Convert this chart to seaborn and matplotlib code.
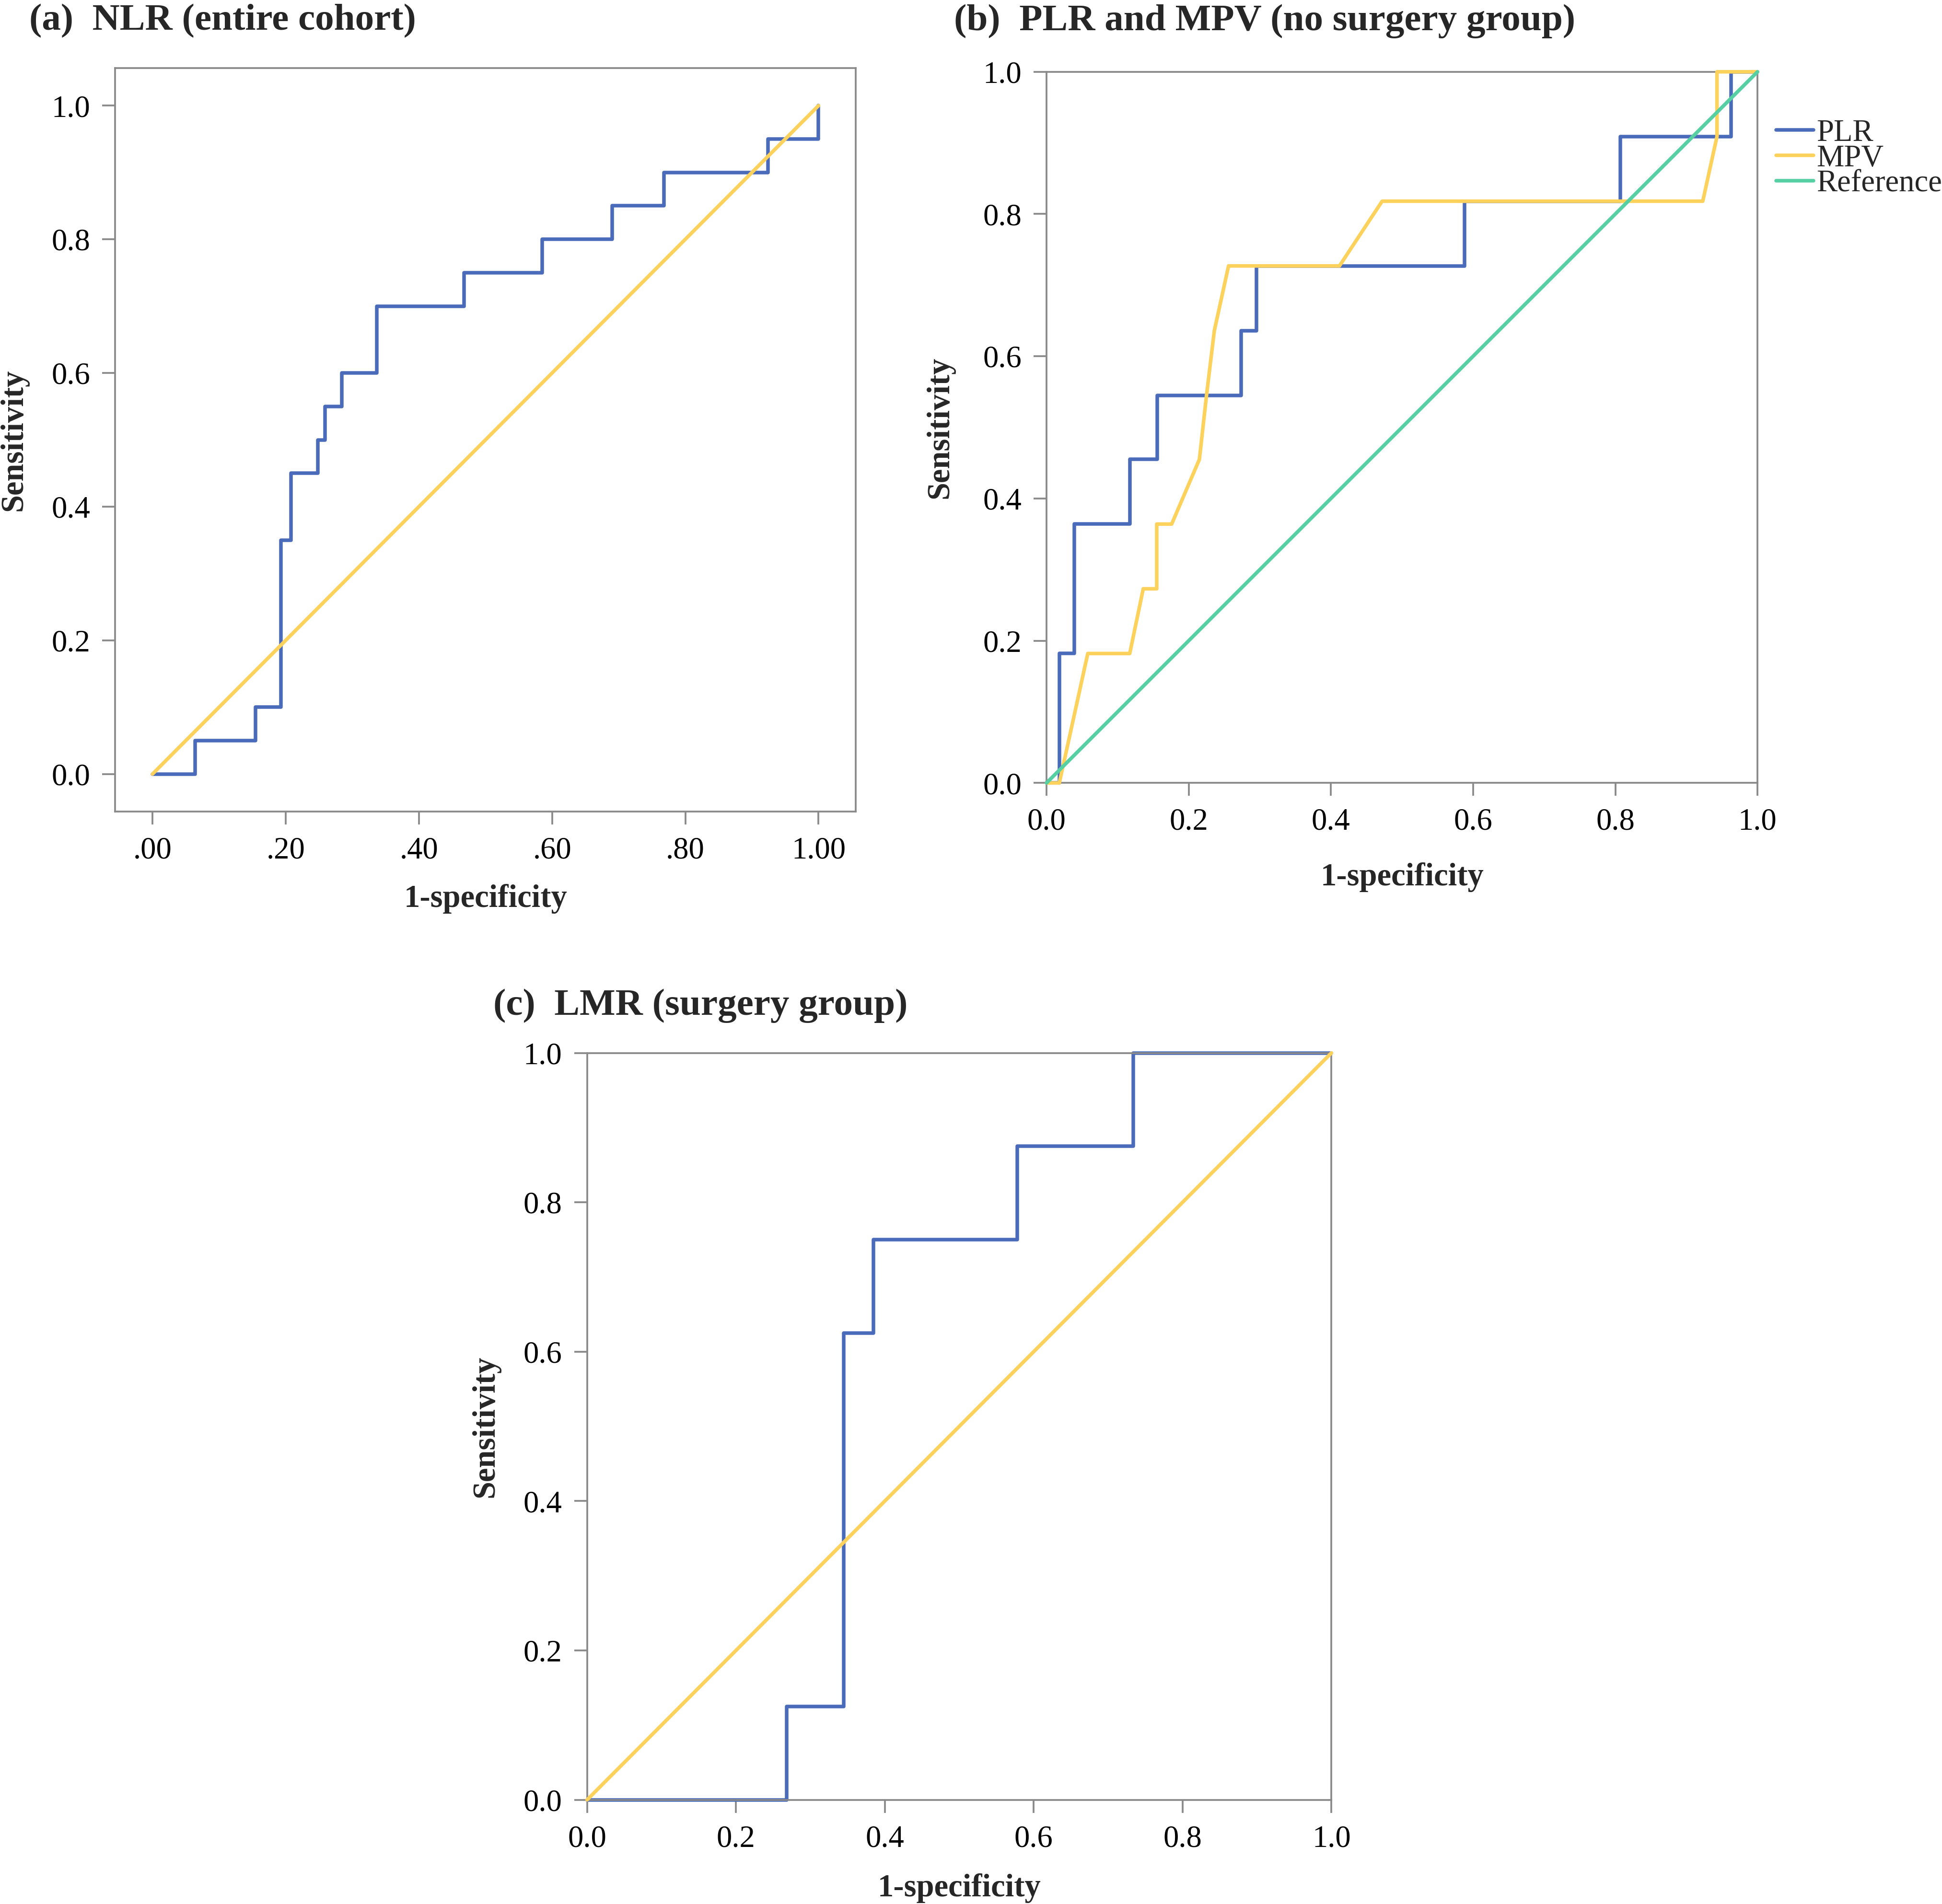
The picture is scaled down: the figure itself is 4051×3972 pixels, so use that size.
import numpy as np
import pandas as pd
import matplotlib
matplotlib.use("Agg")
import matplotlib.pyplot as plt
import seaborn as sns

# ROC points (1-specificity, sensitivity)
# (a) NLR, entire cohort -- step curve
nlr_fpr = [0.0, 0.064, 0.155, 0.193, 0.208, 0.248, 0.259, 0.284, 0.337, 0.468, 0.585, 0.690, 0.768, 0.924, 1.0]
nlr_tpr = [0.0, 0.05, 0.10, 0.35, 0.45, 0.50, 0.55, 0.60, 0.70, 0.75, 0.80, 0.85, 0.90, 0.95, 1.0]

# (b) PLR, no surgery group -- step curve
plr_fpr = [0.0, 0.018, 0.039, 0.117, 0.156, 0.274, 0.295, 0.588, 0.807, 0.963, 1.0]
plr_tpr = [0.0, 0.182, 0.364, 0.455, 0.545, 0.636, 0.727, 0.818, 0.909, 1.0, 1.0]

# (b) MPV, no surgery group -- polyline (tied values give diagonals)
mpv_fpr = [0.0, 0.018, 0.058, 0.117, 0.136, 0.155, 0.155, 0.176, 0.215, 0.225, 0.236, 0.256,
           0.412, 0.472, 0.923, 0.943, 0.943, 1.0]
mpv_tpr = [0.0, 0.0, 0.182, 0.182, 0.273, 0.273, 0.364, 0.364, 0.455, 0.545, 0.636, 0.727,
           0.727, 0.818, 0.818, 0.909, 1.0, 1.0]

# (c) LMR, surgery group -- step curve
lmr_fpr = [0.0, 0.268, 0.345, 0.385, 0.578, 0.734, 1.0]
lmr_tpr = [0.0, 0.125, 0.625, 0.75, 0.875, 1.0, 1.0]

# chance diagonal
ref_xy = [0.0, 1.0]

ticks = [0.0, 0.2, 0.4, 0.6, 0.8, 1.0]
a_xticklabels = ['.00', '.20', '.40', '.60', '.80', '1.00']
std_ticklabels = ['0.0', '0.2', '0.4', '0.6', '0.8', '1.0']

BLUE = '#4a6bba'
YELLOW = '#fdd25c'
GREEN = '#56cfa2'
GRAY = '#8a8a8a'

sns.set_style("ticks")
plt.rcParams['font.family'] = ['Liberation Serif', 'DejaVu Serif']
plt.rcParams['font.size'] = 15.5

fig = plt.figure(figsize=(4051 / 300, 3972 / 300), dpi=300)
ax_a = fig.add_axes([0.0593, 0.5738, 0.3814, 0.3904])
ax_b = fig.add_axes([0.5389, 0.5888, 0.3661, 0.3735])
ax_c = fig.add_axes([0.3023, 0.0547, 0.3833, 0.3923])


def curve(ax, x, y, color, steps=False, z=2, label=None):
    sns.lineplot(x=x, y=y, ax=ax, color=color, linewidth=1.8, sort=False, estimator=None,
                 drawstyle='steps-post' if steps else 'default', label=label, zorder=z,
                 clip_on=False)


def style(ax, lim, xlabels, xpad, ypad):
    ax.set_xlim(lim)
    ax.set_ylim(lim)
    ax.set_xticks(ticks)
    ax.set_xticklabels(xlabels)
    ax.set_yticks(ticks)
    ax.set_yticklabels(std_ticklabels)
    for s in ax.spines.values():
        s.set_visible(True)
        s.set_color(GRAY)
        s.set_linewidth(0.9)
    ax.tick_params(direction='out', length=6.5, width=0.9, color=GRAY,
                   labelsize=15.5, pad=6, labelcolor='black')
    ax.set_xlabel('1-specificity', fontsize=16, fontweight='bold', labelpad=xpad)
    ax.set_ylabel('Sensitivity', fontsize=16, fontweight='bold', labelpad=ypad)


# (a)
curve(ax_a, nlr_fpr, nlr_tpr, BLUE, steps=True, z=2)
curve(ax_a, ref_xy, ref_xy, YELLOW, z=3)
style(ax_a, (-0.056, 1.056), a_xticklabels, 9.5, 11.5)

# (b)
curve(ax_b, plr_fpr, plr_tpr, BLUE, steps=True, z=2, label='PLR')
curve(ax_b, mpv_fpr, mpv_tpr, YELLOW, z=3, label='MPV')
curve(ax_b, ref_xy, ref_xy, GREEN, z=4, label='Reference')
style(ax_b, (0.0, 1.0), std_ticklabels, 13, 14)
ax_b.legend(loc='upper left', bbox_to_anchor=(0.9067, 0.9456), bbox_transform=fig.transFigure,
            frameon=False, borderpad=0, handlelength=1.2, handletextpad=0.1,
            labelspacing=-0.1, fontsize=15.5)

# (c)
curve(ax_c, lmr_fpr, lmr_tpr, BLUE, steps=True, z=2)
curve(ax_c, ref_xy, ref_xy, YELLOW, z=3)
style(ax_c, (0.0, 1.0), std_ticklabels, 10, 11.5)

# panel titles
title_kw = dict(fontsize=19, fontweight='bold', va='baseline', ha='left')
fig.text(0.0151, 1 - 62 / 3972, '(a)  NLR (entire cohort)', **title_kw)
fig.text(0.4913, 1 - 63 / 3972, '(b)  PLR and MPV (no surgery group)', **title_kw)
fig.text(0.2540, 1 - 2117 / 3972, '(c)  LMR (surgery group)', **title_kw)

fig.savefig('out.png', dpi=300)
